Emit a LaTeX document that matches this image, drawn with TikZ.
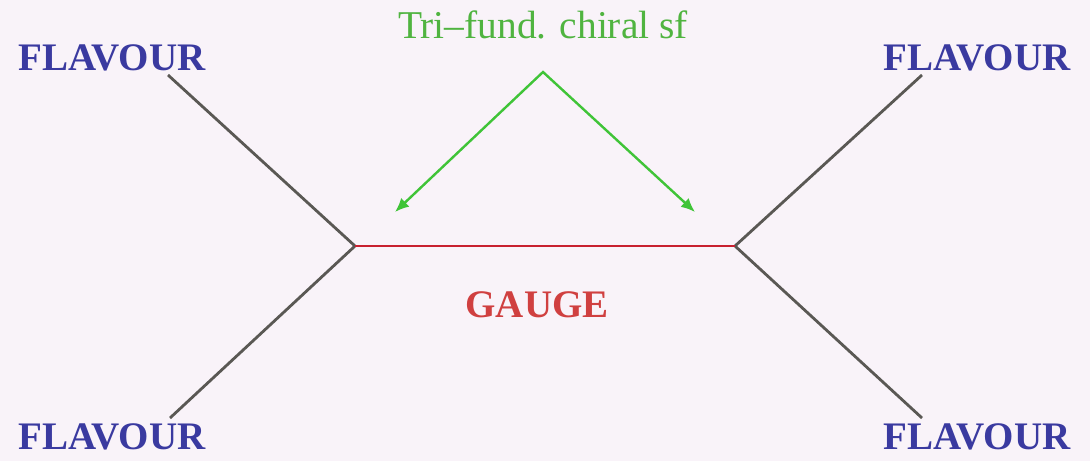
\documentclass[tikz,border=0pt]{standalone}
\usepackage{fontspec}
\setmainfont{Liberation Serif}
\usetikzlibrary{arrows.meta}
\definecolor{bgpink}{RGB}{249,243,249}
\definecolor{flavblue}{RGB}{58,58,160}
\definecolor{chigreen}{RGB}{80,180,64}
\definecolor{arrgreen}{RGB}{64,196,56}
\definecolor{gaugered}{RGB}{208,64,64}
\definecolor{linered}{RGB}{200,32,48}
\definecolor{legray}{RGB}{90,88,84}
\tikzset{
  flav/.style={text=flavblue, font=\fontsize{19.5}{24}\selectfont\bfseries, inner sep=0pt},
  leg/.style={legray, line width=1.4pt},
}
\begin{document}
\begin{tikzpicture}[x=0.5pt, y=-0.5pt]
			\fill[bgpink] (0,0) rectangle (1090,461);
			\useasboundingbox (0,0) rectangle (1090,461);
			
			% the four flavour labels
			\node[flav] (fl1) at (112,58) {FLAVOUR};
			\node[flav] (fl2) at (112,437) {FLAVOUR};
			\node[flav] (fl3) at (977,58) {FLAVOUR};
			\node[flav] (fl4) at (977,437) {FLAVOUR};
			
			\coordinate (vl) at (355,246);
			\coordinate (vr) at (735,246);
			\coordinate (e1) at (168,75);
			\coordinate (e2) at (170,418);
			\coordinate (e3) at (922,75);
			\coordinate (e4) at (922,418);
			
			\draw[leg] (e1) -- (vl) -- (e2);
			\draw[leg] (e3) -- (vr) -- (e4);
			\draw[linered, line width=1.2pt] (vl) -- (vr);
			
			\node[text=gaugered, font=\fontsize{19.5}{24}\selectfont\bfseries, inner sep=0pt] (gauge) at (537,305) {GAUGE};
			
			% chiral superfield pointer
			\node[text=chigreen, font=\fontsize{19.7}{24}\selectfont, inner sep=0pt] (chiral) at (543,25) {Tri--fund. chiral sf};
			\coordinate (apex) at (543,72);
			\coordinate (ql) at (395,212);
			\coordinate (qr) at (695,212);
			\draw[arrgreen, line width=1.2pt, {Latex[length=7pt,width=6pt]}-{Latex[length=7pt,width=6pt]}] (ql) -- (apex) -- (qr);
		\end{tikzpicture}
\end{document}
